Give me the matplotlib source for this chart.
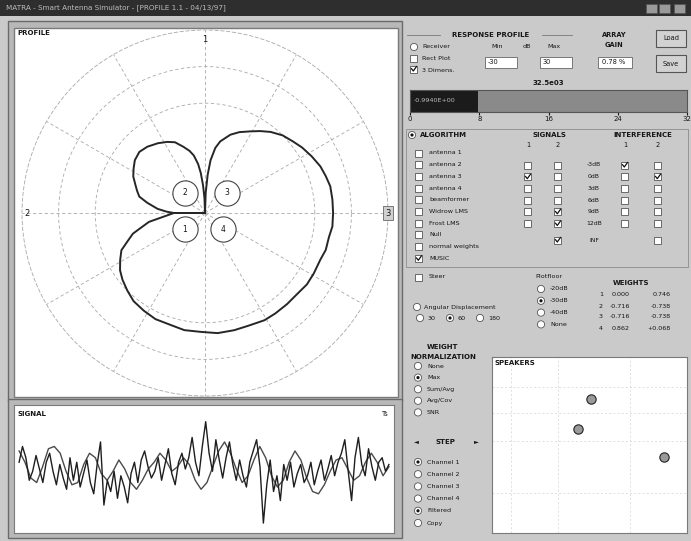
import numpy as np
import matplotlib
matplotlib.use("Agg")
import matplotlib.pyplot as plt
from matplotlib.patches import Rectangle, Circle

W, H = 691, 541

# --- values -------------------------------------------------------------
# beam pattern: angle in degrees, gain normalised to the outer grid circle
pattern_deg = [90, 92, 94, 96, 98, 101, 104, 108, 113, 118, 124, 131, 137, 143, 148, 153,
               158, 162, 166, 170, 175, 178, 180, 180, 180,
               189, 193, 196, 200, 204, 209, 214, 219, 225, 231, 238, 245, 253, 260, 268,
               276, 284, 291, 299, 305, 312, 318, 325, 331, 338, 343, 349, 354, 360, 366,
               372, 377, 382, 388, 394, 399, 405, 411, 416, 421, 427, 432, 438, 441, 444,
               446, 448, 450]
pattern_gain = [0.0, 0.08, 0.15, 0.22, 0.27, 0.32, 0.35, 0.38, 0.42, 0.44, 0.46, 0.48, 0.49,
                0.48, 0.46, 0.44, 0.41, 0.39, 0.37, 0.32, 0.26, 0.21, 0.17, 0.0, 0.17,
                0.31, 0.36, 0.41, 0.45, 0.50, 0.53, 0.56, 0.58, 0.60, 0.62, 0.63, 0.64, 0.64,
                0.65, 0.65, 0.66, 0.66, 0.66, 0.67, 0.67, 0.67, 0.67, 0.68, 0.68, 0.68, 0.69,
                0.69, 0.70, 0.70, 0.70, 0.70, 0.69, 0.68, 0.66, 0.64, 0.62, 0.60, 0.57, 0.54,
                0.51, 0.48, 0.45, 0.40, 0.36, 0.29, 0.21, 0.11, 0.0]

# antenna elements (same normalised frame as the pattern)
element_x = [-0.11, -0.11, 0.12, 0.10]
element_y = [-0.09, 0.11, 0.11, -0.09]
element_labels = ["1", "2", "3", "4"]

# signal trace: slow component and spiky component
signal_slow = [0.35, 0.1, -0.25, -0.35, 0.0, 0.4, 0.45, 0.3, -0.1, -0.4, -0.35, 0.05, 0.3,
               0.2, -0.15, -0.3, -0.1, 0.15, -0.05, -0.35, -0.5, -0.3, -0.05, 0.1, 0.3,
               0.15, -0.1, 0.0, 0.2, 0.05, -0.3, -0.5, -0.35, 0.0, 0.35, 0.55, 0.3, -0.05,
               -0.35, -0.2, 0.15, 0.45, 0.2, -0.2, -0.45, -0.3, 0.1, 0.35, 0.15, -0.25,
               -0.55, -0.6, -0.4, -0.1, 0.15, 0.2, -0.05, -0.3, -0.2, 0.1, 0.3, 0.1, -0.2, 0.0]
signal_fast = [0.1, 0.45, 0.2, -0.3, -0.1, 0.25, -0.05, -0.35, 0.1, 0.3,
               -0.1, -0.4, 0.05, -0.25, -0.5, 0.2, -0.3, 0.1, -0.45, -0.15,
               0.15, -0.35, -0.6, 0.05, 0.55, -0.85, -0.3, -0.55, -0.1, -0.7,
               -0.2, -0.45, -0.8, -0.15, 0.1, -0.35, 0.15, 0.35, 0.0, -0.25,
               -0.1, 0.2, -0.3, 0.05, 0.4, -0.15, -0.4, 0.1, 0.3, -0.05,
               0.2, 0.65, 0.1, -0.2, 0.45, 1.0, 0.3, -0.1, 0.6, 0.15,
               -0.25, 0.2, 0.55, 0.05, -0.3, 0.15, -0.2, -0.45, 0.1, 0.35,
               0.6, 0.0, -1.25, -0.4, 0.15, -0.55, -0.2, -0.75, 0.05, -0.3,
               0.1, -0.45, -0.15, 0.05, -0.35, -0.2, 0.1, -0.4, -0.1, 0.15,
               -0.3, -0.05, 0.25, -0.2, 0.1, 0.3, 0.6, -0.1, -0.75, 0.2,
               0.65, 0.05, -0.2, 0.4, 0.0, -0.3, 0.1, 0.2, -0.1, 0.05]

# speaker positions
speaker_x = [5.1, 4.4, 8.8]
speaker_y = [7.6, 5.9, 4.3]

# level bar
level_value = 7.9
level_max = 32
level_ticks = [0, 8, 16, 24, 32]

# control panel texts
algorithm_items = ["antenna 1", "antenna 2", "antenna 3", "antenna 4", "beamformer",
                   "Widrow LMS", "Frost LMS", "Null", "normal weights", "MUSIC"]
snr_labels = ["-3dB", "0dB", "3dB", "6dB", "9dB", "12dB"]
signal_checked = [[False, True, False, False, False, False], [False, False, False, False, True, True]]
interf_checked = [[True, False, False, False, False, False], [False, True, False, False, False, False]]
floor_items = ["-20dB", "-30dB", "-40dB", "None"]
weights_re = ["0.000", "-0.716", "-0.716", "0.862"]
weights_im = ["0.746", "-0.738", "-0.738", "+0.068"]
norm_items = ["None", "Max", "Sum/Avg", "Avg/Cov", "SNR"]
channel_items = ["Channel 1", "Channel 2", "Channel 3", "Channel 4", "Filtered", "Copy"]

INK = "#161616"
GRID = "#a8a8a8"

fig = plt.figure(figsize=(W / 100, H / 100), dpi=100, facecolor="#cacaca")
bg = fig.add_axes([0, 0, 1, 1])
bg.set_xlim(0, W)
bg.set_ylim(H, 0)
bg.axis("off")


def px_axes(x0, y0, x1, y1, **kw):
    return fig.add_axes([x0 / W, 1 - y1 / H, (x1 - x0) / W, (y1 - y0) / H], **kw)


def label(x, y, s, size=5.0, weight="normal", ha="left", color=INK):
    bg.text(x, y, s, fontsize=size, fontweight=weight, ha=ha, va="center", color=color)


def checkbox(x, y, checked=False):
    bg.add_patch(Rectangle((x - 3.5, y - 3.5), 7, 7, fc="white", ec="#555", lw=0.6))
    if checked:
        bg.plot([x - 2.5, x - 0.7, x + 2.5], [y - 0.3, y + 2, y - 2.5], color="#111", lw=0.9)


def radio(x, y, on=False):
    bg.add_patch(Circle((x, y), 3.6, fc="white", ec="#555", lw=0.6))
    if on:
        bg.add_patch(Circle((x, y), 1.6, fc="#111", ec="none"))


# title bar
bg.add_patch(Rectangle((0, 0), W, 16, fc="#2e2e2e", ec="none"))
label(6, 8, "MATRA - Smart Antenna Simulator - [PROFILE 1.1 - 04/13/97]", size=5.2, color="#bdbdbd")
for bx in [646, 659, 674]:
    bg.add_patch(Rectangle((bx, 4), 11, 9, fc="#9a9a9a", ec="#555", lw=0.5))

# ---------------- profile panel ----------------
bg.add_patch(Rectangle((8, 21), 394, 380, fc="#b8b8b8", ec="#6a6a6a", lw=1.0))
bg.add_patch(Rectangle((14, 28), 384, 369, fc="white", ec="#7a7a7a", lw=1.0))
label(17, 33, "PROFILE", size=5.0, weight="bold")

ax_p = px_axes(22, 30, 388, 396, projection="polar")
ax_p.set_facecolor("none")
ax_p.plot(np.radians(pattern_deg), pattern_gain, color="#262626", lw=1.4)
ax_p.set_ylim(0, 1.0)
ax_p.set_rticks([0.6, 0.8])
ax_p.set_thetagrids(np.arange(0, 360, 30), labels=[""] * 12)
ax_p.set_yticklabels([])
ax_p.grid(True, color=GRID, lw=0.6, ls=(0, (4, 3)))
ax_p.spines["polar"].set_color(GRID)
ax_p.spines["polar"].set_linewidth(0.6)
ax_p.spines["polar"].set_linestyle((0, (4, 3)))

ax_e = px_axes(22, 30, 388, 396)
ax_e.set_xlim(-1, 1)
ax_e.set_ylim(-1, 1)
ax_e.axis("off")
ax_e.scatter(element_x, element_y, s=330, facecolors="white", edgecolors="#444", linewidths=0.8, zorder=3)
for ex, ey, el in zip(element_x, element_y, element_labels):
    ax_e.text(ex, ey, el, fontsize=5.5, ha="center", va="center", color=INK, zorder=4)
ax_e.text(0, 0.95, "1", fontsize=6, ha="center", va="center", color=INK)
ax_e.text(-0.97, 0, "2", fontsize=6, ha="center", va="center", color=INK)
ax_e.text(1.0, 0, "3", fontsize=6, ha="center", va="center", color=INK,
          bbox=dict(boxstyle="square,pad=0.25", fc="#d0d0d0", ec="#666", lw=0.6))

# ---------------- signal panel ----------------
bg.add_patch(Rectangle((8, 399), 394, 139, fc="#b8b8b8", ec="#6a6a6a", lw=1.0))
ax_s = px_axes(14, 405, 394, 533)
ax_s.set_facecolor("white")
ax_s.plot(np.linspace(0, 109, len(signal_slow)), signal_slow, color="#4a4a4a", lw=1.0)
ax_s.plot(np.arange(len(signal_fast)), signal_fast, color="#1e1e1e", lw=1.0)
ax_s.set_xlim(-1.5, 110.5)
ax_s.set_ylim(-1.47, 1.37)
ax_s.set_xticks([])
ax_s.set_yticks([])
for sp in ax_s.spines.values():
    sp.set_color("#7a7a7a")
ax_s.text(0.01, 0.95, "SIGNAL", transform=ax_s.transAxes, fontsize=5, fontweight="bold",
          va="top", color=INK)
ax_s.text(0.985, 0.95, "Ts", transform=ax_s.transAxes, fontsize=5, ha="right", va="top", color=INK)

# ---------------- right panel ----------------
# response profile group
bg.plot([407, 440], [35, 35], color="#777", lw=0.6)
bg.plot([542, 572], [35, 35], color="#777", lw=0.6)
label(491, 35, "RESPONSE PROFILE", size=5.0, weight="bold", ha="center")
radio(414, 47)
label(422, 47, "Receiver", size=4.6)
checkbox(414, 58)
label(422, 58, "Rect Plot", size=4.6)
checkbox(414, 69, checked=True)
label(422, 70, "3 Dimens.", size=4.6)
label(497, 47, "Min", size=4.6, ha="center")
label(527, 47, "dB", size=4.6, ha="center")
label(554, 47, "Max", size=4.6, ha="center")
for x0, txt in [(485, "-30"), (540, "30")]:
    bg.add_patch(Rectangle((x0, 57), 32, 11, fc="white", ec="#666", lw=0.6))
    label(x0 + 3, 62.5, txt, size=4.8)
label(614, 35, "ARRAY", size=4.8, weight="bold", ha="center")
label(614, 45, "GAIN", size=4.8, weight="bold", ha="center")
bg.add_patch(Rectangle((598, 57), 34, 11, fc="white", ec="#666", lw=0.6))
label(602, 62.5, "0.78 %", size=4.8)
for y0, txt in [(30, "Load"), (55, "Save")]:
    bg.add_patch(Rectangle((656, y0), 30, 17, fc="#d2d2d2", ec="#555", lw=0.8))
    label(671, y0 + 8.5, txt, size=4.8, ha="center")

# level bar
label(548, 83, "32.5e03", size=5.0, weight="bold", ha="center")
ax_cb = px_axes(410, 90, 687, 112)
ax_cb.barh(0, level_value, height=1, color="#1b1b1b")
ax_cb.barh(0, level_max - level_value, left=level_value, height=1, color="#8a8a8a")
ax_cb.set_xlim(0, level_max)
ax_cb.set_ylim(-0.5, 0.5)
ax_cb.set_yticks([])
ax_cb.set_xticks(level_ticks)
ax_cb.set_xticklabels([str(t) for t in level_ticks])
ax_cb.tick_params(axis="x", labelsize=5, length=2, pad=1, colors=INK)
for sp in ax_cb.spines.values():
    sp.set_color("#555")
ax_cb.text(0.015, 0.5, "-0.9940E+00", transform=ax_cb.transAxes, fontsize=4.6, color="#bbbbbb", va="center")

# algorithm group
bg.add_patch(Rectangle((406, 129), 282, 138, fc="none", ec="#8c8c8c", lw=0.6))
radio(412, 135, on=True)
label(420, 135, "ALGORITHM", size=5.0, weight="bold")
for i, item in enumerate(algorithm_items):
    yy = 153 + i * 11.7
    checkbox(419, yy, checked=(i == len(algorithm_items) - 1))
    label(429, yy, item, size=4.6)
checkbox(419, 277)
label(429, 277, "Steer", size=4.6)

# signals / interference columns
label(549, 135, "SIGNALS", size=5.0, weight="bold", ha="center")
label(643, 135, "INTERFERENCE", size=5.0, weight="bold", ha="center")
for cx, cl in [(528, "1"), (558, "2"), (625, "1"), (658, "2")]:
    label(cx, 145, cl, size=4.8, ha="center")
for c, cx in enumerate([528, 558]):
    for r, flag in enumerate(signal_checked[c]):
        checkbox(cx, 165 + r * 11.7, checked=flag)
for c, cx in enumerate([625, 658]):
    for r, flag in enumerate(interf_checked[c]):
        checkbox(cx, 165 + r * 11.7, checked=flag)
for r, s in enumerate(snr_labels):
    label(594, 165 + r * 11.7, s, size=4.4, ha="center")
checkbox(558, 240, checked=True)
label(594, 240, "INF", size=4.4, ha="center")
checkbox(658, 240)

# floor radio group
label(535, 277, "Plotfloor", size=4.6)
for i, item in enumerate(floor_items):
    yy = 289 + i * 11.8
    radio(541, yy, on=(i == 1))
    label(550, yy, item, size=4.6)

# weights table
label(631, 283, "WEIGHTS", size=5.0, weight="bold", ha="center")
for i, (re, im) in enumerate(zip(weights_re, weights_im)):
    yy = 295 + i * 11
    label(601, yy, str(i + 1), size=4.6, ha="center")
    label(630, yy, re, size=4.6, ha="right")
    label(671, yy, im, size=4.6, ha="right")

# angular display
radio(417, 307)
label(424, 307, "Angular Displacement", size=4.6)
for x0, txt, on in [(420, "30", False), (450, "60", True), (480, "180", False)]:
    radio(x0, 318, on=on)
    label(x0 + 8, 318, txt, size=4.6)

# weight normalisation
label(443, 347, "WEIGHT", size=5.0, weight="bold", ha="center")
label(443, 357, "NORMALIZATION", size=5.0, weight="bold", ha="center")
for i, item in enumerate(norm_items):
    yy = 366 + i * 11.6
    radio(418, yy, on=(i == 1))
    label(427, yy, item, size=4.6)

# step / channel
label(414, 442, "\u25c4", size=4.6)
label(445, 442, "STEP", size=5.0, weight="bold", ha="center")
label(474, 442, "\u25ba", size=4.6)
for i, item in enumerate(channel_items):
    yy = 462 + i * 12.2
    radio(418, yy, on=(i == 0 or i == 4))
    label(427, yy, item, size=4.6)

# speakers plot
ax_sp = px_axes(492, 357, 687, 533)
ax_sp.set_facecolor("white")
ax_sp.scatter(speaker_x, speaker_y, s=45, facecolors="#9a9a9a", edgecolors="#222", linewidths=0.8, zorder=3)
ax_sp.set_xlim(0, 10)
ax_sp.set_ylim(0, 10)
ax_sp.set_xticks([1.0, 3.4, 7.1])
ax_sp.set_yticks([2.3, 5.2, 6.8, 8.3])
ax_sp.tick_params(length=0, labelbottom=False, labelleft=False)
ax_sp.grid(True, color="#d4d4d4", lw=0.5, ls=(0, (3, 3)))
for sp in ax_sp.spines.values():
    sp.set_color("#7a7a7a")
ax_sp.text(0.015, 0.985, "SPEAKERS", transform=ax_sp.transAxes, fontsize=5, fontweight="bold",
           va="top", color=INK)

fig.savefig("out.png", dpi=100, facecolor=fig.get_facecolor())
